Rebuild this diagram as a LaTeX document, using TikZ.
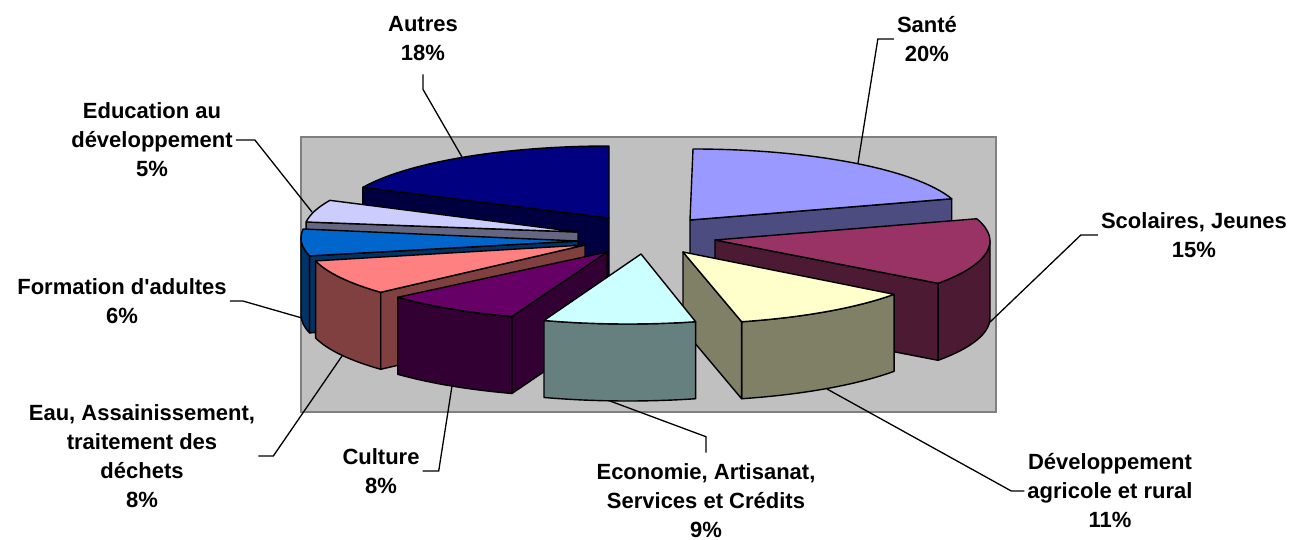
\documentclass[tikz,border=0pt]{standalone}
\usepackage{fontspec}
\setmainfont{Liberation Sans}
\usetikzlibrary{calc,positioning}

\definecolor{autresTop}{HTML}{000080}
\definecolor{autresSide}{HTML}{000040}
\definecolor{santeTop}{HTML}{9999FF}
\definecolor{santeSide}{HTML}{4C4C80}
\definecolor{educTop}{HTML}{CCCCFF}
\definecolor{educSide}{HTML}{666680}
\definecolor{formTop}{HTML}{0066CC}
\definecolor{formSide}{HTML}{003366}
\definecolor{scolTop}{HTML}{993366}
\definecolor{scolSide}{HTML}{4D1A33}
\definecolor{eauTop}{HTML}{FF8080}
\definecolor{eauSide}{HTML}{804040}
\definecolor{cultTop}{HTML}{660066}
\definecolor{cultSide}{HTML}{330033}
\definecolor{develTop}{HTML}{FFFFCC}
\definecolor{develSide}{HTML}{808066}
\definecolor{econTop}{HTML}{CCFFFF}
\definecolor{econSide}{HTML}{668080}
\definecolor{plotGray}{HTML}{C0C0C0}

% pie pieces: top face, outer wall, cut face
\newcommand{\topface}[5]{%
  \filldraw[face,fill=#5] (#1) -- ($(#2)+(#3:272 and 72)$)
    arc[start angle=#3,end angle=#4,x radius=272,y radius=72] -- cycle;}
\newcommand{\wallface}[4]{%
  \filldraw[face,fill=#4] ($(#1)+(#2:272 and 72)$)
    arc[start angle=#2,end angle=#3,x radius=272,y radius=72]
    -- ++(0,77) arc[start angle=#3,end angle=#2,x radius=272,y radius=72] -- cycle;}
\newcommand{\cutface}[4]{%
  \filldraw[face,fill=#4] (#1) -- ($(#2)+(#3:272 and 72)$) -- ++(0,77)
    -- ($(#1)+(0,77)$) -- cycle;}

\begin{document}
\begin{tikzpicture}[x=1pt,y=-1pt,
  face/.style={draw=black,line width=1.4pt,line join=round},
  lbl/.style={font=\bfseries\fontsize{22}{29}\selectfont,align=center,inner sep=3pt},
  leader/.style={draw=black,line width=1.3pt}]

  \useasboundingbox (0,0) rectangle (1293,540);
  \filldraw[fill=plotGray,draw=gray,line width=1.5pt] (301,137) rectangle (996,412);

  % apex and centre of each piece
  \coordinate (autresA) at (609,218);
  \coordinate (santeA) at (690,220);  \coordinate (santeC) at (693,221);
  \coordinate (educA) at (578,232);   \coordinate (educC) at (576,231);
  \coordinate (formA) at (578,241);   \coordinate (formC) at (573,238);
  \coordinate (scolA) at (715,240);   \coordinate (scolC) at (718,241);
  \coordinate (eauA) at (585,245);    \coordinate (eauC) at (579,243);
  \coordinate (cultA) at (607,252);   \coordinate (cultC) at (596,248);
  \coordinate (develA) at (683,252);  \coordinate (develC) at (674,252);
  \coordinate (econA) at (641,254);   \coordinate (econC) at (628,252);

  % back to front
  \cutface{autresA}{autresA}{205.2}{autresSide}
  \topface{autresA}{autresA}{205.2}{270}{autresTop}
  \cutface{santeA}{santeC}{-18}{santeSide}
  \topface{santeA}{santeC}{-90}{-18}{santeTop}
  \cutface{educA}{educC}{187.2}{educSide}
  \topface{educA}{educC}{187.2}{205.2}{educTop}
  \wallface{formC}{165.6}{180}{formSide}
  \cutface{formA}{formC}{165.6}{formSide}
  \topface{formA}{formC}{165.6}{187.2}{formTop}
  \wallface{scolC}{0}{36}{scolSide}
  \cutface{scolA}{scolC}{36}{scolSide}
  \topface{scolA}{scolC}{-18}{36}{scolTop}
  \wallface{eauC}{136.8}{165.6}{eauSide}
  \cutface{eauA}{eauC}{136.8}{eauSide}
  \topface{eauA}{eauC}{136.8}{165.6}{eauTop}
  \wallface{cultC}{108}{136.8}{cultSide}
  \cutface{cultA}{cultC}{108}{cultSide}
  \topface{cultA}{cultC}{108}{136.8}{cultTop}
  \wallface{develC}{36}{75.6}{develSide}
  \cutface{develA}{develC}{75.6}{develSide}
  \topface{develA}{develC}{36}{75.6}{develTop}
  \wallface{econC}{75.6}{108}{econSide}
  \topface{econA}{econC}{75.6}{108}{econTop}

  % labels
  \node[lbl] (sante) at (927,39) {Santé\\20\%};
  \node[lbl] (autres) at (423,39) {Autres\\18\%};
  \node[lbl] (educ) at (152,140) {Education au\\développement\\5\%};
  \node[lbl] (form) at (122,301) {Formation d\textquotesingle adultes\\6\%};
  \node[lbl] (eau) at (142,456) {Eau, Assainissement,\\traitement des\\déchets\\8\%};
  \node[lbl] (cult) at (381,471) {Culture\\8\%};
  \node[lbl] (econ) at (706,501) {Economie, Artisanat,\\Services et Crédits\\9\%};
  \node[lbl] (devel) at (1110,491) {Développement\\agricole et rural\\11\%};
  \node[lbl] (scol) at (1194,235) {Scolaires, Jeunes\\15\%};

  \coordinate (santeEnd) at (858,163);
  \coordinate (autresEnd) at (462,157);
  \coordinate (educEnd) at (312,212);
  \coordinate (formEnd) at (302,318);
  \coordinate (eauEnd) at (342,356);
  \coordinate (cultEnd) at (452,386);
  \coordinate (econEnd) at (610,401);
  \coordinate (develEnd) at (827,389);
  \coordinate (scolEnd) at (989,323);

  \draw[leader] (sante.west) -- ++(-16,0) -- (santeEnd);
  \draw[leader] ([yshift=-10pt]autres.south) -- ++(0,15) -- (autresEnd);
  \draw[leader] (educ.east) -- ++(19,0) -- (educEnd);
  \draw[leader] (form.east) -- ++(13,0) -- (formEnd);
  \draw[leader] (eau.east) -- ++(15,0) -- (eauEnd);
  \draw[leader] (cult.east) -- ++(16,0) -- (cultEnd);
  \draw[leader] ([yshift=8pt]econ.north) -- ++(0,-16) -- (econEnd);
  \draw[leader] (devel.west) -- ++(-13,0) -- (develEnd);
  \draw[leader] (scol.west) -- ++(-17,0) -- (scolEnd);
\end{tikzpicture}
\end{document}
